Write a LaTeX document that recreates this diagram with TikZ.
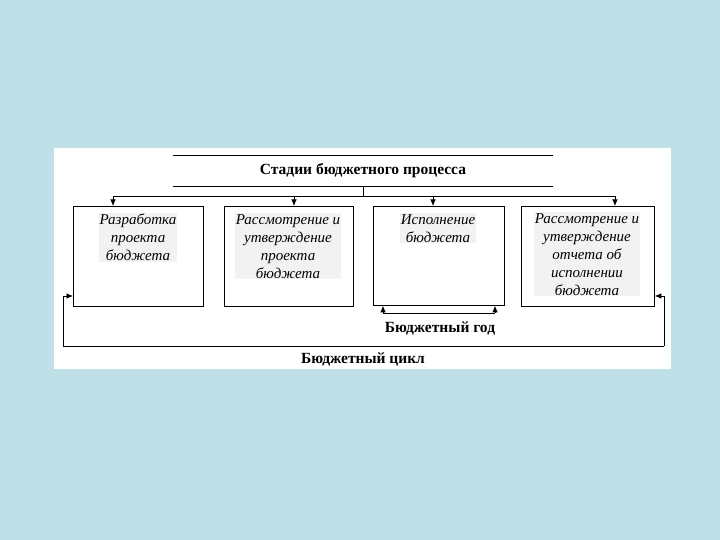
\documentclass[tikz,border=0pt]{standalone}
\usepackage{fontspec}
\setmainfont{Liberation Serif}
\usetikzlibrary{arrows.meta}
\definecolor{slidebg}{RGB}{190,224,230}

\begin{document}
\begin{tikzpicture}[x=1pt,y=-1pt,
		stagebox/.style={draw, line width=0.8pt, minimum width=130pt, minimum height=100pt, anchor=north west},
		stagetext/.style={font=\itshape\fontsize{15}{18}\selectfont, align=center, fill=black!5, inner sep=1pt, anchor=north},
		boldlabel/.style={font=\bfseries\fontsize{15.5}{17}\selectfont},
		arr/.style={-{Latex[length=6.5pt,width=5.5pt]}, line width=0.8pt}
	]
	% slide and panel
	\fill[slidebg] (0,0) rectangle (720,540);
	\fill[white] (54,148) rectangle (671,369);

	% title
	\node[boldlabel, minimum width=380pt, minimum height=30pt, inner sep=0pt] (title) at (363,171) {Стадии бюджетного процесса};
	\draw[line width=0.8pt] (title.north west) -- (title.north east);
	\draw[line width=0.8pt] (title.south west) -- (title.south east);

	% stages
	\node[stagebox] (b1) at (73,206) {};
	\node[stagebox, minimum width=129pt] (b2) at (224,206) {};
	\node[stagebox, minimum width=131pt, minimum height=99pt] (b3) at (373,206) {};
	\node[stagebox, minimum width=133pt] (b4) at (521,206) {};

	\node[stagetext] (s1) at (138,213) {Разработка\\проекта\\бюджета};
	\node[stagetext] (s2) at (288,213) {Рассмотрение и\\утверждение\\проекта\\бюджета};
	\node[stagetext] (s3) at (438,213) {Исполнение\\бюджета};
	\node[stagetext] (s4) at (587,212) {Рассмотрение и\\утверждение\\отчета об\\исполнении\\бюджета};

	% bus from title
	\coordinate (bus) at (363,196);
	\coordinate (t1) at (113,196);
	\coordinate (t2) at (294,196);
	\coordinate (t3) at (433,196);
	\coordinate (t4) at (615,196);
	\draw[line width=0.8pt] (title.south) -- (bus);
	\draw[line width=0.8pt] (t1) -- (t4);
	\draw[arr] (t1) -- (t1 |- b1.north);
	\draw[arr] (t2) -- (t2 |- b2.north);
	\draw[arr] (t3) -- (t3 |- b3.north);
	\draw[arr] (t4) -- (t4 |- b4.north);

	% budget year
	\coordinate (y1) at (383,313);
	\coordinate (y2) at (495,313);
	\draw[line width=0.8pt] (y1) -- (y2);
	\draw[arr] (y1) -- (y1 |- b3.south);
	\draw[arr] (y2) -- (y2 |- b3.south);
	\node[boldlabel] (year) at (440,329) {Бюджетный год};

	% budget cycle
	\coordinate (cyc) at (0,296);
	\coordinate (cl) at (63,346);
	\coordinate (cr) at (664,346);
	\draw[line width=0.8pt] (cl) -- (cr);
	\draw[arr] (cl) |- (b1.west |- cyc);
	\draw[arr] (cr) |- (b4.east |- cyc);
	\node[boldlabel] (cycle) at (363,360) {Бюджетный цикл};
\end{tikzpicture}
\end{document}
